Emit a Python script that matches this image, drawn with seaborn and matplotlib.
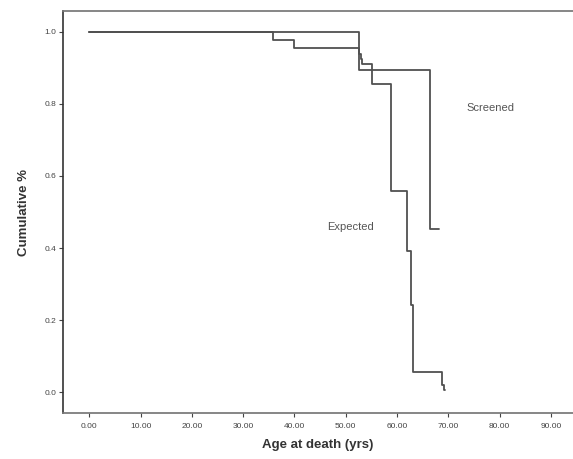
import matplotlib
matplotlib.use("Agg")
import matplotlib.pyplot as plt
import seaborn as sns
import pandas as pd

# Data (Kaplan-Meier style step curves)
screened_age = [0.0, 52.5, 66.4, 68.1]
screened_surv = [1.0, 0.894, 0.452, 0.452]
expected_age = [0.0, 35.8, 39.9, 52.6, 52.9, 53.2, 55.1, 58.8, 61.9, 62.8, 63.2, 68.7, 69.2, 69.4]
expected_surv = [1.0, 0.978, 0.955, 0.94, 0.925, 0.91, 0.855, 0.558, 0.393, 0.242, 0.056, 0.019, 0.006, 0.006]
x_ticks = [0, 10, 20, 30, 40, 50, 60, 70, 80, 90]
y_ticks = [0.0, 0.2, 0.4, 0.6, 0.8, 1.0]

sns.set_theme(style="white")
plt.rcParams['font.family'] = ['Liberation Sans', 'DejaVu Sans']

df = pd.concat([
    pd.DataFrame({"age": screened_age, "surv": screened_surv, "group": "Screened"}),
    pd.DataFrame({"age": expected_age, "surv": expected_surv, "group": "Expected"}),
], ignore_index=True)

fig = plt.figure(figsize=(5.73, 4.59), dpi=100)
ax = fig.add_axes([63 / 573, 1 - 413 / 459, 1 - 63 / 573, (413 - 11) / 459])

for g in ["Screened", "Expected"]:
    sub = df[df["group"] == g]
    sns.lineplot(data=sub, x="age", y="surv", ax=ax, estimator=None, sort=False,
                 drawstyle="steps-post", color="#505050", linewidth=1.3, legend=False)

ax.set_xlim(-5.13, 94.3)
ax.set_ylim(-0.058, 1.058)
ax.set_xticks(x_ticks)
ax.set_xticklabels([f"{v:.2f}" for v in x_ticks])
ax.set_yticks(y_ticks)
ax.set_yticklabels([f"{v:.1f}" for v in y_ticks])
ax.tick_params(axis="both", labelsize=6, colors="#444444", length=3, width=0.8,
               direction="out", pad=2)
ax.tick_params(axis="x", pad=4)
ax.tick_params(bottom=True, left=True)

for side in ["left", "bottom", "top"]:
    ax.spines[side].set_visible(True)
ax.spines["right"].set_visible(False)
ax.spines["left"].set_color("#333333")
ax.spines["left"].set_linewidth(1.2)
ax.spines["bottom"].set_color("#777777")
ax.spines["top"].set_color("#777777")

ax.set_xlabel("Age at death (yrs)", fontsize=9.5, fontweight="bold", color="#333333", labelpad=7)
ax.set_ylabel("Cumulative %", fontsize=9.5, fontweight="bold", color="#333333", labelpad=10)

ax.text(78.2, 0.79, "Screened", fontsize=8, color="#555555", ha="center", va="center")
ax.text(50.9, 0.458, "Expected", fontsize=8, color="#555555", ha="center", va="center")

fig.savefig("out.png", dpi=100)
